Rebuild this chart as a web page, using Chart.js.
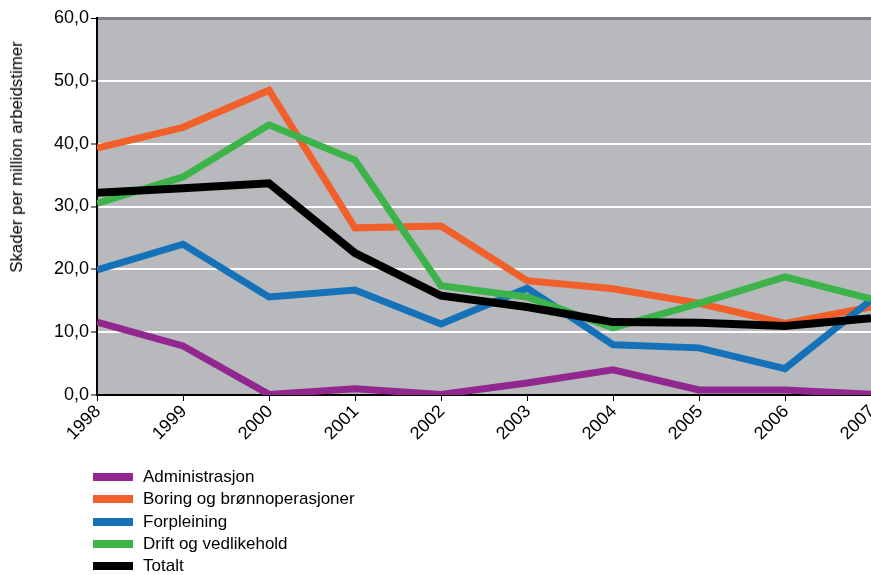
<!DOCTYPE html>
<html>
<head>
<meta charset="utf-8">
<script src="https://cdn.jsdelivr.net/npm/chart.js@4/dist/chart.umd.min.js"></script>
<style>
  body { margin: 0; background: #fff; font-family: "Liberation Sans", Arial, sans-serif; }
  #wrap { position: relative; width: 871px; height: 575px; overflow: hidden; }
  #ytitle {
    position: absolute; left: 17px; top: 157px;
    transform: translate(-50%, -50%) rotate(-90deg);
    white-space: nowrap; font-size: 16.8px; color: #000;
  }
  #legend { position: absolute; left: 93px; top: 466px; font-size: 17px; color: #000; }
  #legend div { height: 22.3px; line-height: 22.3px; display: flex; align-items: center; }
  #legend span.sw { display: inline-block; width: 40px; height: 8px; margin-right: 10px; }
</style>
</head>
<body>
<div id="wrap">
  <canvas id="myChart" width="871" height="575"></canvas>
  <div id="ytitle">Skader per million arbeidstimer</div>
  <div id="legend"></div>
</div>
<script>
// Years on the x axis
var years = ['1998', '1999', '2000', '2001', '2002', '2003', '2004', '2005', '2006', '2007'];

// Injuries per million working hours, one array per area
var administrasjon = [11.6, 7.8, 0.1, 1.0, 0.1, 1.9, 4.0, 0.8, 0.8, 0.1];
var boring = [39.3, 42.6, 48.5, 26.6, 26.9, 18.2, 16.9, 14.6, 11.4, 14.0];
var forpleining = [19.9, 24.0, 15.6, 16.7, 11.3, 17.0, 8.0, 7.5, 4.2, 15.1];
var drift = [30.5, 34.7, 43.0, 37.4, 17.4, 15.6, 10.7, 14.6, 18.8, 15.3];
var totalt = [32.2, 32.9, 33.7, 22.6, 15.8, 14.0, 11.6, 11.5, 11.0, 12.2];

var seriesNames = ['Administrasjon', 'Boring og brønnoperasjoner', 'Forpleining', 'Drift og vedlikehold', 'Totalt'];
var seriesColors = ['#92278f', '#f15f2a', '#1572b9', '#3cb44a', '#000000'];

// Grey plot background
var plotBackground = {
    id: 'plotBackground',
    beforeDraw: function(chart) {
        var a = chart.chartArea;
        var c = chart.ctx;
        c.save();
        c.fillStyle = '#b8b9bc';
        c.fillRect(a.left, a.top, a.right - a.left, a.bottom - a.top);
        c.restore();
    }
};

function makeDataset(i, values, width, order) {
    return {
        label: seriesNames[i],
        data: values,
        borderColor: seriesColors[i],
        backgroundColor: seriesColors[i],
        borderWidth: width,
        pointRadius: 0,
        borderJoinStyle: 'miter',
        borderCapStyle: 'butt',
        tension: 0,
        clip: 0,
        order: order
    };
}

var datasets = [
    makeDataset(0, administrasjon, 7, 4),
    makeDataset(1, boring, 7, 3),
    makeDataset(2, forpleining, 7, 2),
    makeDataset(3, drift, 7, 1),
    makeDataset(4, totalt, 8, 0)
];

// Build the legend below the chart
var legendEl = document.getElementById('legend');
for (var i = 0; i < seriesNames.length; i++) {
    var row = document.createElement('div');
    var sw = document.createElement('span');
    sw.className = 'sw';
    sw.style.background = seriesColors[i];
    row.appendChild(sw);
    row.appendChild(document.createTextNode(seriesNames[i]));
    legendEl.appendChild(row);
}

var tickFont = { family: '"Liberation Sans", Arial, sans-serif', size: 18 };

var ctx = document.getElementById('myChart').getContext('2d');
var myChart = new Chart(ctx, {
    type: 'line',
    data: { labels: years, datasets: datasets },
    plugins: [plotBackground],
    options: {
        responsive: false,
        animation: false,
        layout: { padding: { top: 18, right: 0, left: 0, bottom: 0 } },
        plugins: { legend: { display: false }, tooltip: { enabled: false } },
        scales: {
            x: {
                offset: false,
                afterFit: function(scale) {
                    scale.height = 180;
                    scale.paddingLeft = 0;
                    scale.paddingRight = 0;
                },
                grid: { drawOnChartArea: false, tickLength: 6, tickColor: '#000', tickWidth: 1 },
                border: { color: '#000', width: 2 },
                ticks: { color: '#000', font: tickFont, minRotation: 45, maxRotation: 45, padding: 0, labelOffset: 1, autoSkip: false }
            },
            y: {
                min: 0,
                max: 60,
                afterFit: function(scale) { scale.width = 97; },
                grid: {
                    color: function(c) {
                        if (c.tick.value === 0) return 'rgba(0,0,0,0)';
                        if (c.tick.value === 60) return '#7e7f82';
                        return '#ffffff';
                    },
                    lineWidth: function(c) { return c.tick.value === 60 ? 3 : 2; },
                    tickColor: '#000',
                    tickLength: 6,
                    tickWidth: 1
                },
                border: { color: '#000', width: 2 },
                ticks: {
                    stepSize: 10,
                    color: '#000',
                    font: tickFont,
                    padding: 2,
                    callback: function(v) { return v.toFixed(1).replace('.', ','); }
                }
            }
        }
    }
});
</script>
</body>
</html>
